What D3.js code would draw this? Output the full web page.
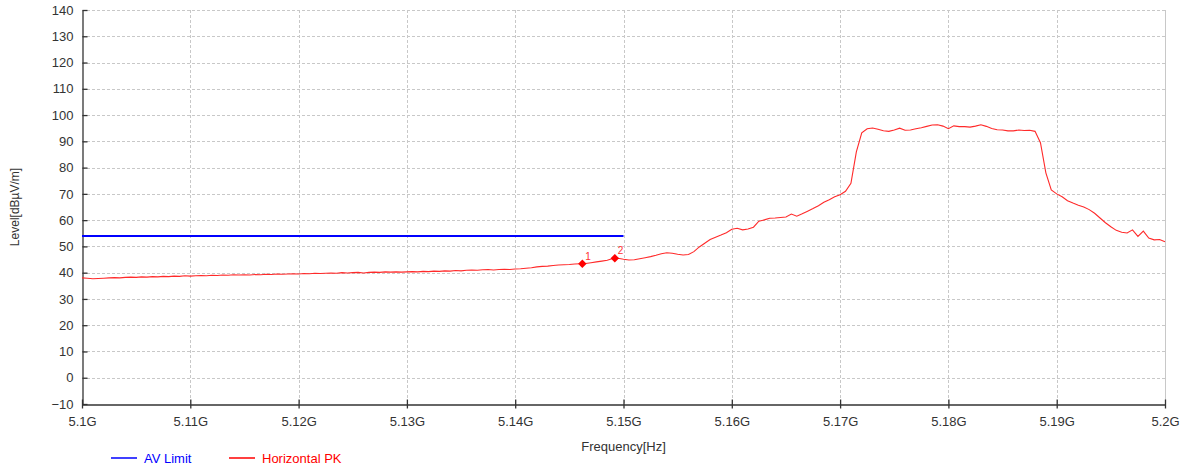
<!DOCTYPE html>
<html>
<head>
<meta charset="utf-8">
<script src="https://cdn.jsdelivr.net/npm/d3@7"></script>
<style>
  body { margin: 0; background: #fff; }
  text { font-family: "Liberation Sans", Arial, sans-serif; }
</style>
</head>
<body>
<script>
(function() {

// sweep grid of the receiver: start and step in GHz
var sweepStart = 5.1,
    sweepStep = 0.0005;

// measured peak level of the horizontal trace, one value per sweep step
var horizontalPK = [
    38.0, 37.9, 37.7, 37.8, 37.9, 38.0, 38.1, 38.0, 38.2, 38.3,
    38.2, 38.4, 38.3, 38.5, 38.4, 38.6, 38.5, 38.7, 38.6, 38.8,
    38.7, 38.8, 38.9, 38.8, 39.0, 38.9, 39.1, 39.0, 39.2, 39.1,
    39.2, 39.1, 39.3, 39.2, 39.4, 39.3, 39.5, 39.4, 39.5, 39.6,
    39.5, 39.7, 39.6, 39.8, 39.7, 39.8, 39.9, 39.8, 40.0, 39.9,
    40.0, 40.1, 39.9, 40.1, 40.2, 40.1, 40.3, 40.2, 40.3, 40.2,
    40.3, 40.4, 40.3, 40.5, 40.4, 40.6, 40.5, 40.7, 40.6, 40.8,
    40.7, 40.9, 41.0, 40.9, 41.1, 41.2, 41.0, 41.2, 41.3, 41.2,
    41.4, 41.5, 41.7, 41.9, 42.2, 42.4, 42.5, 42.7, 42.9, 43.0,
    43.1, 43.3, 43.4, 43.5, 43.8, 44.1, 44.4, 44.7, 45.4, 45.5,
    45.1, 44.8, 44.9, 45.3, 45.7, 46.1, 46.6, 47.2, 47.6, 47.4,
    47.0, 46.7, 46.9, 48.0, 49.8, 51.2, 52.6, 53.5, 54.3, 55.2,
    56.5, 56.9, 56.3, 56.6, 57.3, 59.6, 60.1, 60.7, 60.8, 61.0,
    61.2, 62.3, 61.5, 62.4, 63.4, 64.4, 65.5, 66.8, 67.8, 68.9,
    69.7, 71.0, 74.0, 86.0, 93.2, 94.8, 95.1, 94.6, 94.0, 93.8,
    94.3, 95.0, 94.2, 94.3, 94.8, 95.2, 95.7, 96.2, 96.3, 95.8,
    94.8, 95.9, 95.6, 95.6, 95.4, 95.8, 96.3, 95.7, 94.9, 94.4,
    94.3, 94.0, 94.0, 94.3, 94.1, 94.2, 93.8, 89.5, 78.0, 71.5,
    70.0, 68.9, 67.4, 66.5, 65.7, 65.0, 64.0, 62.6, 60.8, 59.0,
    57.5, 56.1, 55.4, 55.1, 56.3, 53.8, 55.8, 53.2, 52.5, 52.6,
    51.8
];

// AV limit line (GHz, dBuV/m)
var avLimitFreq = [5.1, 5.15];
var avLimitLevel = [54, 54];

// marker points on the trace
var markerNames = ["1", "2"];
var markerFreq = [5.1462, 5.1492];
var markerLevel = [43.4, 45.5];

// axis ticks
var xTicks = [5.1, 5.11, 5.12, 5.13, 5.14, 5.15, 5.16, 5.17, 5.18, 5.19, 5.2];
var xTickLabels = ["5.1G", "5.11G", "5.12G", "5.13G", "5.14G", "5.15G", "5.16G", "5.17G", "5.18G", "5.19G", "5.2G"];
var yTicks = d3.range(-10, 141, 10);

var width = 1188,
    height = 468;

var margin = {
        top: 10,
        right: 23,
        bottom: 64,
        left: 82
    };

var svg = d3.select("body").append("svg")
    .attr("width", width)
    .attr("height", height);

var x = d3.scaleLinear()
    .domain([5.1, 5.2])
    .range([margin.left, width - margin.right]);

var y = d3.scaleLinear()
    .domain([-10, 140])
    .range([height - margin.bottom, margin.top]);

// dashed grid lines
svg.append("g")
    .selectAll("line")
    .data(xTicks.slice(1, -1))
    .enter()
    .append("line")
    .attr("x1", function(d) { return Math.round(x(d)) + 0.5; })
    .attr("x2", function(d) { return Math.round(x(d)) + 0.5; })
    .attr("y1", y(140))
    .attr("y2", y(-10))
    .attr("stroke", "#c8c8c8")
    .attr("stroke-dasharray", "3,2");

svg.append("g")
    .selectAll("line")
    .data(yTicks.slice(1))
    .enter()
    .append("line")
    .attr("x1", x(5.1))
    .attr("x2", x(5.2))
    .attr("y1", function(d) { return Math.round(y(d)) + 0.5; })
    .attr("y2", function(d) { return Math.round(y(d)) + 0.5; })
    .attr("stroke", "#c8c8c8")
    .attr("stroke-dasharray", "3,2");

// right border
svg.append("line")
    .attr("x1", Math.round(x(5.2)) + 0.5)
    .attr("x2", Math.round(x(5.2)) + 0.5)
    .attr("y1", y(140))
    .attr("y2", y(-10))
    .attr("stroke", "#c8c8c8");

// y axis, ticks cross the axis line
var yAxis = svg.append("g")
    .attr("transform", "translate(" + (margin.left + 0.5) + ",0)")
    .call(d3.axisLeft(y).tickValues(yTicks).tickSize(5).tickSizeOuter(0).tickPadding(4));
yAxis.selectAll(".tick line").attr("x2", 5);

var xAxis = svg.append("g")
    .attr("transform", "translate(0," + (Math.round(y(-10)) + 0.5) + ")")
    .call(d3.axisBottom(x).tickValues(xTicks).tickSize(4).tickSizeOuter(0).tickPadding(8)
        .tickFormat(function(d, i) { return xTickLabels[i]; }));
xAxis.selectAll(".tick line").attr("y1", -5);

svg.selectAll(".domain, .tick line").attr("stroke", "#333").attr("stroke-width", 1.3);
svg.selectAll(".tick text")
    .attr("font-size", "13px")
    .attr("fill", "#333")
    .style("font-family", "Liberation Sans, Arial, sans-serif");

// axis titles
svg.append("text")
    .attr("transform", "translate(19," + ((y(140) + y(-10)) / 2) + ") rotate(-90)")
    .attr("text-anchor", "middle")
    .attr("font-size", "12px")
    .attr("fill", "#333")
    .text("Level[dBµV/m]");

svg.append("text")
    .attr("x", (x(5.1) + x(5.2)) / 2)
    .attr("y", 451)
    .attr("text-anchor", "middle")
    .attr("font-size", "13px")
    .attr("fill", "#333")
    .text("Frequency[Hz]");

// AV limit
svg.append("path")
    .datum(d3.zip(avLimitFreq, avLimitLevel))
    .attr("d", d3.line().x(function(d) { return x(d[0]); }).y(function(d) { return y(d[1]); }))
    .attr("fill", "none")
    .attr("stroke", "#0000ff")
    .attr("stroke-width", 2);

// horizontal peak trace
svg.append("path")
    .datum(horizontalPK)
    .attr("d", d3.line()
        .x(function(d, i) { return x(sweepStart + i * sweepStep); })
        .y(function(d) { return y(d); }))
    .attr("fill", "none")
    .attr("stroke", "#ff2a2a")
    .attr("stroke-width", 1.1);

// markers: filled diamonds (rotated squares) with number label
var markers = svg.selectAll(".marker")
    .data(markerNames)
    .enter()
    .append("g")
    .attr("class", "marker")
    .attr("transform", function(d, i) {
        return "translate(" + x(markerFreq[i]) + "," + y(markerLevel[i]) + ")";
    });

markers.append("path")
    .attr("d", d3.symbol().type(d3.symbolSquare).size(36))
    .attr("transform", "rotate(45)")
    .attr("fill", "#ff0000");

markers.append("text")
    .attr("x", 3)
    .attr("y", -4)
    .attr("font-size", "10px")
    .attr("fill", "#ff3030")
    .text(function(d) { return d; });

// legend
var legendNames = ["AV Limit", "Horizontal PK"];
var legendColors = ["#0000ff", "#ff0000"];
var legendX = [111, 229];

var legend = svg.selectAll(".legend")
    .data(legendNames)
    .enter()
    .append("g")
    .attr("class", "legend")
    .attr("transform", function(d, i) { return "translate(" + legendX[i] + ",458)"; });

legend.append("line")
    .attr("x1", 0)
    .attr("x2", 26)
    .attr("stroke", function(d, i) { return legendColors[i]; })
    .attr("stroke-width", 1.5);

legend.append("text")
    .attr("x", 33)
    .attr("y", 5)
    .attr("font-size", "13px")
    .attr("fill", function(d, i) { return legendColors[i]; })
    .text(function(d) { return d; });

})();
</script>
</body>
</html>
